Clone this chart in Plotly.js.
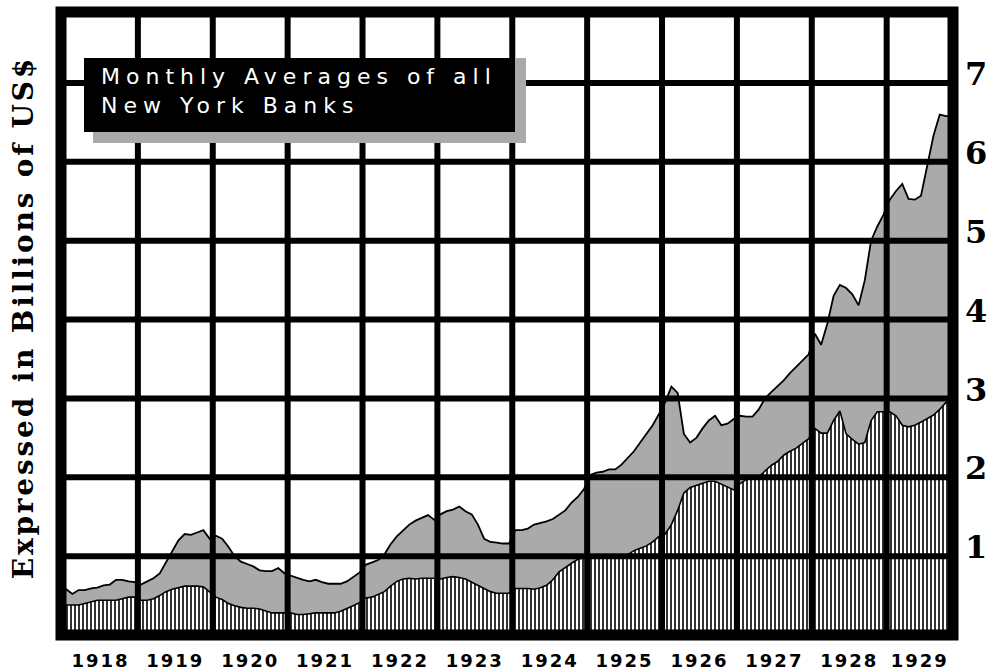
<!DOCTYPE html>
<html>
<head>
<meta charset="utf-8">
<script src="https://cdn.plot.ly/plotly-3.0.1.min.js"></script>
<style>
  html, body { margin: 0; padding: 0; background: #ffffff; }
  #chart { width: 1001px; height: 671px; }
</style>
</head>
<body>
<div id="chart"></div>
<script>
// ---- data (monthly averages, billions of US$) ----
const years = [1918, 1919, 1920, 1921, 1922, 1923, 1924, 1925, 1926, 1927, 1928, 1929];

const upperSeries = [
  0.58, 0.52, 0.57, 0.57, 0.59, 0.60, 0.63, 0.64, 0.70, 0.70, 0.68, 0.67, // 1918
  0.64, 0.68, 0.72, 0.78, 0.92, 1.05, 1.20, 1.28, 1.27, 1.30, 1.33, 1.22, // 1919
  1.26, 1.22, 1.12, 1.00, 0.93, 0.90, 0.87, 0.82, 0.81, 0.81, 0.85, 0.78, // 1920
  0.75, 0.73, 0.70, 0.68, 0.70, 0.67, 0.65, 0.65, 0.65, 0.68, 0.73, 0.79, // 1921
  0.89, 0.92, 0.95, 1.02, 1.15, 1.25, 1.33, 1.40, 1.45, 1.48, 1.52, 1.46, // 1922
  1.53, 1.57, 1.59, 1.63, 1.57, 1.53, 1.40, 1.22, 1.18, 1.17, 1.16, 1.16, // 1923
  1.33, 1.33, 1.35, 1.40, 1.42, 1.44, 1.47, 1.52, 1.58, 1.68, 1.75, 1.85, // 1924
  2.03, 2.06, 2.07, 2.10, 2.10, 2.16, 2.25, 2.33, 2.44, 2.55, 2.66, 2.80, // 1925
  2.95, 3.15, 3.07, 2.55, 2.44, 2.50, 2.62, 2.72, 2.78, 2.66, 2.68, 2.74, // 1926
  2.78, 2.77, 2.77, 2.86, 3.00, 3.08, 3.15, 3.23, 3.32, 3.40, 3.47, 3.56, // 1927
  3.82, 3.68, 3.95, 4.30, 4.44, 4.40, 4.32, 4.18, 4.50, 5.00, 5.18, 5.33, // 1928
  5.52, 5.63, 5.72, 5.53, 5.52, 5.57, 5.95, 6.33, 6.60, 6.58              // 1929
];

const lowerSeries = [
  0.38, 0.38, 0.38, 0.40, 0.42, 0.44, 0.44, 0.44, 0.44, 0.46, 0.48, 0.48, // 1918
  0.44, 0.44, 0.46, 0.50, 0.55, 0.58, 0.60, 0.62, 0.62, 0.62, 0.61, 0.55, // 1919
  0.48, 0.45, 0.40, 0.37, 0.35, 0.34, 0.34, 0.33, 0.30, 0.28, 0.28, 0.28, // 1920
  0.28, 0.26, 0.26, 0.27, 0.28, 0.28, 0.28, 0.28, 0.30, 0.33, 0.37, 0.41, // 1921
  0.47, 0.48, 0.52, 0.55, 0.62, 0.68, 0.71, 0.72, 0.71, 0.72, 0.72, 0.72, // 1922
  0.71, 0.73, 0.74, 0.73, 0.71, 0.67, 0.63, 0.58, 0.55, 0.53, 0.53, 0.53, // 1923
  0.59, 0.59, 0.59, 0.58, 0.60, 0.63, 0.70, 0.80, 0.86, 0.91, 0.96, 0.98, // 1924
  0.98, 0.98, 0.99, 0.99, 1.00, 1.00, 1.02, 1.07, 1.10, 1.13, 1.18, 1.25, // 1925
  1.28, 1.40, 1.58, 1.80, 1.87, 1.90, 1.93, 1.95, 1.95, 1.91, 1.88, 1.84, // 1926
  1.92, 1.97, 2.00, 2.00, 2.08, 2.15, 2.20, 2.28, 2.33, 2.37, 2.43, 2.49, // 1927
  2.62, 2.56, 2.56, 2.72, 2.84, 2.55, 2.48, 2.42, 2.44, 2.72, 2.83, 2.83, // 1928
  2.83, 2.78, 2.66, 2.64, 2.66, 2.70, 2.75, 2.79, 2.86, 2.95              // 1929
];

const yTickValues = [1, 2, 3, 4, 5, 6, 7];
const boxTitle = ["Monthly Averages of all", "New York Banks"];
const yAxisTitle = "Expressed in Billions of US$";

// ---- month positions: each value plotted at its month centre,
//      with the first/last value held to the edges of the period ----
const nMonths = upperSeries.length;
const monthX = [0];
for (let i = 0; i < nMonths; i++) monthX.push(i + 0.5);
monthX.push(nMonths);
const padSeries = s => [s[0]].concat(s, [s[s.length - 1]]);

const X_RANGE = [-0.32, 142.63];
const Y_RANGE = [0, 7.9];

// plot area in pixels: left 61, right 953, top 12, bottom 635
const PL = 61, PR = 953, PT = 12, PB = 635;
const px2paperX = px => (px - PL) / (PR - PL);
const py2paperY = py => (PB - py) / (PB - PT);

const traces = [
  {
    type: 'scatter', mode: 'lines',
    x: monthX, y: padSeries(upperSeries),
    line: { shape: 'linear', color: '#000000', width: 1.8 },
    fill: 'tozeroy', fillcolor: '#aaaaaa',
    hoverinfo: 'skip', showlegend: false
  },
  {
    type: 'scatter', mode: 'lines',
    x: monthX, y: padSeries(lowerSeries),
    line: { shape: 'linear', color: '#000000', width: 1.6 },
    fill: 'tozeroy',
    fillpattern: { shape: '|', fgcolor: '#000000', bgcolor: '#ffffff', size: 4, solidity: 0.4 },
    hoverinfo: 'skip', showlegend: false
  }
];

const shapes = [];
// vertical grid lines at year boundaries
for (let k = 1; k < years.length; k++) {
  shapes.push({ type: 'line', layer: 'above', xref: 'x', yref: 'paper',
    x0: 12 * k, x1: 12 * k, y0: 0, y1: 1, line: { color: '#000000', width: 6 } });
}
// horizontal grid lines
yTickValues.forEach(v => {
  shapes.push({ type: 'line', layer: 'above', xref: 'paper', yref: 'y',
    x0: 0, x1: 1, y0: v, y1: v, line: { color: '#000000', width: 6 } });
});
// title box shadow and box
shapes.push({ type: 'rect', layer: 'above', xref: 'paper', yref: 'paper',
  x0: px2paperX(93), x1: px2paperX(526), y0: py2paperY(143), y1: py2paperY(58),
  fillcolor: '#aaaaaa', line: { width: 0 } });
shapes.push({ type: 'rect', layer: 'above', xref: 'paper', yref: 'paper',
  x0: px2paperX(84), x1: px2paperX(515), y0: py2paperY(132), y1: py2paperY(58),
  fillcolor: '#000000', line: { width: 0 } });
// heavy frame
shapes.push({ type: 'rect', layer: 'above', xref: 'paper', yref: 'paper',
  x0: 0, x1: 1, y0: 0, y1: 1, fillcolor: 'rgba(0,0,0,0)',
  line: { color: '#000000', width: 11 } });

// x tick positions: centre of each year column (last column ends at axis end)
const xTickVals = years.map((y, k) => {
  const a = 12 * k;
  const b = Math.min(12 * (k + 1), X_RANGE[1]);
  return (a + b) / 2;
});

const layout = {
  width: 1001, height: 671,
  margin: { l: PL, r: 1001 - PR, t: PT, b: 671 - PB, pad: 0 },
  paper_bgcolor: '#ffffff', plot_bgcolor: '#ffffff',
  showlegend: false,
  xaxis: {
    range: X_RANGE, showgrid: false, zeroline: false, showline: false,
    ticks: '', tickmode: 'array', tickvals: xTickVals, ticktext: years.map(String),
    tickfont: { family: 'DejaVu Sans', size: 18, color: '#000000', weight: 'bold' },
    ticklabelstandoff: 13, fixedrange: true
  },
  yaxis: {
    range: Y_RANGE, side: 'right', showgrid: false, zeroline: false, showline: false,
    ticks: '', tickmode: 'array', tickvals: yTickValues, ticktext: yTickValues.map(String),
    tickfont: { family: 'DejaVu Serif', size: 32, color: '#000000', weight: 'bold' },
    ticklabelstandoff: 11, ticklabelshift: -9, fixedrange: true
  },
  shapes: shapes,
  annotations: [
    {
      xref: 'paper', yref: 'paper', x: px2paperX(99), y: py2paperY(62),
      xanchor: 'left', yanchor: 'top', align: 'left', showarrow: false,
      text: boxTitle.join('<br>'),
      font: { family: 'DejaVu Sans', size: 22, color: '#ffffff' }
    },
    {
      xref: 'paper', yref: 'paper', x: px2paperX(23), y: py2paperY(318),
      xanchor: 'center', yanchor: 'middle', showarrow: false, textangle: -90,
      text: yAxisTitle,
      font: { family: 'DejaVu Serif', size: 28, color: '#000000', weight: 'bold' }
    }
  ]
};

Plotly.newPlot('chart', traces, layout, { displayModeBar: false, staticPlot: true }).then(gd => {
  const ann = gd.querySelectorAll('.annotation-text');
  if (ann[0]) ann[0].style.letterSpacing = '6px';
  if (ann[1]) ann[1].style.letterSpacing = '2.8px';
  gd.querySelectorAll('.xtick text').forEach(t => { t.style.letterSpacing = '2px'; });
});
</script>
</body>
</html>
